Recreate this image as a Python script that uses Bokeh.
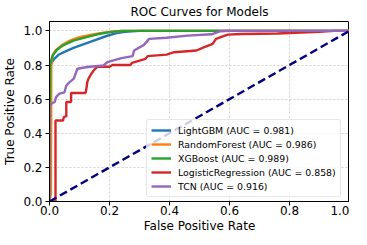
from bokeh.plotting import figure
from bokeh.models import Range1d, Legend, LegendItem, FixedTicker, PrintfTickFormatter
from bokeh.embed import file_html
from bokeh.resources import INLINE

# ---- data ----
lgbm_fpr = [0, 0.003, 0.006, 0.015, 0.03, 0.05, 0.08, 0.11, 0.15, 0.19, 0.22, 0.25, 0.30, 1.0]
lgbm_tpr = [0, 0.78, 0.81, 0.835, 0.86, 0.877, 0.90, 0.92, 0.945, 0.97, 0.985, 0.995, 1.0, 1.0]

rf_fpr = [0, 0.005, 0.006, 0.01, 0.02, 0.04, 0.07, 0.10, 0.14, 0.18, 0.22, 0.25, 1.0]
rf_tpr = [0, 0.05, 0.80, 0.855, 0.885, 0.915, 0.945, 0.963, 0.978, 0.99, 0.998, 1.0, 1.0]

xgb_fpr = [0, 0.002, 0.006, 0.012, 0.025, 0.045, 0.08, 0.12, 0.16, 0.20, 0.24, 1.0]
xgb_tpr = [0, 0.80, 0.83, 0.86, 0.89, 0.915, 0.943, 0.962, 0.98, 0.993, 1.0, 1.0]

lr_fpr = [0, 0.02, 0.02, 0.045, 0.048, 0.056, 0.056, 0.072, 0.072, 0.12, 0.122, 0.126, 0.13, 0.14,
          0.148, 0.16, 0.20, 0.21, 0.27, 0.275, 0.32, 0.327, 0.39, 0.416, 0.49, 0.516, 0.544,
          0.555, 0.594, 0.64, 0.76, 0.90, 0.95, 1.0]
lr_tpr = [0, 0, 0.475, 0.475, 0.495, 0.50, 0.583, 0.583, 0.636, 0.636, 0.65, 0.70, 0.72, 0.75,
          0.77, 0.79, 0.79, 0.80, 0.80, 0.813, 0.836, 0.852, 0.861, 0.875, 0.885, 0.905, 0.924,
          0.953, 0.978, 0.982, 0.985, 0.995, 1.0, 1.0]

tcn_fpr = [0, 0, 0.006, 0.017, 0.022, 0.033, 0.05, 0.056, 0.067, 0.081, 0.093, 0.126, 0.18,
           0.193, 0.24, 0.277, 0.282, 0.315, 0.332, 0.39, 0.46, 0.54, 0.57, 0.60, 1.0]
tcn_tpr = [0, 0.565, 0.573, 0.583, 0.612, 0.632, 0.64, 0.68, 0.70, 0.72, 0.778, 0.788, 0.797,
           0.817, 0.84, 0.852, 0.885, 0.918, 0.953, 0.96, 0.972, 0.98, 0.998, 1.0, 1.0]

labels = ["LightGBM (AUC = 0.981)", "RandomForest (AUC = 0.986)", "XGBoost (AUC = 0.989)",
          "LogisticRegression (AUC = 0.858)", "TCN (AUC = 0.916)"]
colors = ["#1f77b4", "#ff7f0e", "#2ca02c", "#d62728", "#9467bd"]
series = [(lgbm_fpr, lgbm_tpr), (rf_fpr, rf_tpr), (xgb_fpr, xgb_tpr),
          (lr_fpr, lr_tpr), (tcn_fpr, tcn_tpr)]
diag = [0, 1]
ticks = [0.0, 0.2, 0.4, 0.6, 0.8, 1.0]

FONT = "DejaVu Sans"

p = figure(frame_width=300, frame_height=180, output_backend="svg", toolbar_location=None,
           x_range=Range1d(0, 1.0), y_range=Range1d(0, 1.055),
           min_border_left=0, min_border_right=0, min_border_top=0, min_border_bottom=0,
           title="ROC Curves for Models")

p.title.align = "center"
p.title.text_font = FONT
p.title.text_font_size = "12px"
p.title.text_font_style = "normal"
p.title.text_color = "#000000"
p.title.standoff = 5
p.title.offset = 0

p.outline_line_color = "#000000"
p.outline_line_width = 1
p.background_fill_color = "white"
p.border_fill_color = "white"

for ax in (p.xaxis[0], p.yaxis[0]):
    ax.ticker = FixedTicker(ticks=ticks)
    ax.formatter = PrintfTickFormatter(format="%.1f")
    ax.major_label_text_font = FONT
    ax.major_label_text_font_size = "12px"
    ax.major_label_text_color = "#000000"
    ax.axis_label_text_font = FONT
    ax.axis_label_text_font_size = "12px"
    ax.axis_label_text_font_style = "normal"
    ax.axis_label_text_color = "#000000"
    ax.major_tick_out = 4
    ax.major_tick_in = 0
    ax.minor_tick_out = 0
    ax.minor_tick_in = 0
    ax.axis_line_color = "#000000"
    ax.major_tick_line_color = "#000000"

p.xaxis.major_label_standoff = 0
p.xaxis.axis_label_standoff = 1
p.yaxis.major_label_standoff = 3
p.yaxis.axis_label_standoff = 3

p.xaxis.axis_label = "False Positive Rate"
p.yaxis.axis_label = "True Positive Rate"

p.grid.grid_line_color = "#c4c4c4"
p.grid.grid_line_dash = "2 2"
p.grid.grid_line_width = 0.8
p.xgrid.ticker = FixedTicker(ticks=ticks)
p.ygrid.ticker = FixedTicker(ticks=ticks)

items = []
for (fx, fy), c, lab in zip(series, colors, labels):
    r = p.line(fx, fy, line_color=c, line_width=2.4)
    items.append(LegendItem(label=lab, renderers=[r]))

p.line(diag, diag, line_color="#000080", line_width=2.4, line_dash="8 4")

legend = Legend(items=items, location=(97, 4))
legend.label_text_font = FONT
legend.label_text_font_size = "9.4px"
legend.label_text_color = "#000000"
legend.glyph_width = 20
legend.glyph_height = 12
legend.label_height = 12
legend.label_standoff = 7
legend.spacing = 2
legend.padding = 4
legend.margin = 0
legend.border_line_color = "#d0d0d0"
legend.border_line_width = 1
legend.border_radius = 3
legend.background_fill_color = "white"
legend.background_fill_alpha = 0.8
p.add_layout(legend)

open("out.html", "w").write(file_html(p, INLINE))
